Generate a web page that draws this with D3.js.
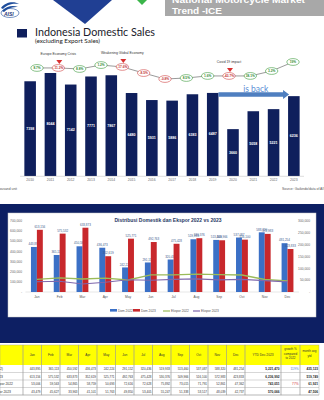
<!DOCTYPE html>
<html><head><meta charset="utf-8">
<script src="https://cdn.jsdelivr.net/npm/d3@7"></script>
<style>html,body{margin:0;padding:0;background:#fff;overflow:hidden}</style>
</head><body><svg id="c" width="324" height="400" xmlns="http://www.w3.org/2000/svg"></svg>
<script>
// ---------- DATA: top chart ----------
const years = ["2010","2011","2012","2013","2014","2015","2016","2017","2018","2019","2020","2021","2022","2023"];
const sales = [7398,8044,7142,7771,7867,6480,5931,5886,6383,6487,3660,5058,5221,6236];
const growthLabels = ["8.7%","-11.2%","8.8%","1.2%","-17.6%","-8.5%","-0.8%","8.5%","1.6%","-43.7%","38.1%","3.2%","19%"];
const growthNegative = [false,true,false,false,true,true,true,false,false,true,false,false,false];
const growthLevel = [0.65,0.65,0.59,0.82,0.71,0.35,0,0.06,0.18,0.18,0.18,0.47,1];
const events = [{i:1,text:"Europe  Economy  Crisis"},{i:4,text:"Weakening  Global Economy"},{i:9,text:"Covid 19 impact"}];

// ---------- DATA: monthly chart ----------
const months = ["Jan","Feb","Mar","Apr","May","Jun","Jul","Aug","Sep","Oct","Nov","Dec"];
const dom2022 = [443895,365113,450592,436473,242224,291152,320436,519933,513460,537087,588320,481254];
const dom2023 = [613156,575532,633873,352619,525771,492763,475428,530376,509966,516100,572983,423833];
const eks2022 = [53006,59563,54865,58759,50693,72616,72628,75892,73015,71791,52861,47362];
const eks2023 = [43479,45627,33963,41101,51763,49850,53405,55247,51338,53517,48039,42737];
const leftTicks = [0,100000,200000,300000,400000,500000,600000,700000];
const rightTicks = [0,50000,100000,150000,200000,250000,300000];
const seriesNames = ["Dom 2022","Dom 2023","Ekspor 2022","Ekspor 2023"];

// ---------- DATA: table ----------
const rowLabels = ["Domestik (2022)","Domestik 2023","Ekspor 2022","Ekspor 2023"];
const ytd = ["5,221,470","6,236,992","743,051","570,066"];
const growthPct = ["119%","","77%",""];
const monthAvg = ["435,123","519,749","61,921","47,506"];

const svg = d3.select("#c");
const fmt = d3.format(",");
const F = "'Liberation Sans', Arial, sans-serif";

// ---------- Header decorations ----------
svg.append("path").attr("d","M53,0 L112,0 L85,24 Z").attr("fill","#203f93");
svg.append("path").attr("d","M137,0 L147,0 L142,5 Z").attr("fill","#3bb54a");
svg.append("rect").attr("x",165).attr("y",0).attr("width",159).attr("height",16).attr("fill","#a8a8a8");
svg.append("text").attr("x",172).attr("y",3).attr("fill","#fff").attr("font-family",F).attr("font-weight","bold")
  .attr("font-size",9).attr("textLength",133).attr("lengthAdjust","spacingAndGlyphs").text("National Motorcycle Market");
svg.append("text").attr("x",172).attr("y",14).attr("fill","#fff").attr("font-family",F).attr("font-weight","bold")
  .attr("font-size",9).attr("textLength",50).attr("lengthAdjust","spacingAndGlyphs").text("Trend -ICE");
// logo
const logo = svg.append("g");
logo.append("path").attr("d","M1,8 C5,2 14,1 19,4 C14,3 7,4 3,9 Z").attr("fill","#1f4e9c");
logo.append("path").attr("d","M2,11 C6,6 13,5 18,7 C13,7 8,8 4,12 Z").attr("fill","#1f4e9c");
logo.append("text").attr("x",4).attr("y",16).attr("font-family",F).attr("font-style","italic").attr("font-weight","bold")
  .attr("font-size",5).attr("fill","#1f3a7a").text("AISI");
logo.append("ellipse").attr("cx",10).attr("cy",13).attr("rx",9).attr("ry",4.5).attr("fill","none").attr("stroke","#1f4e9c").attr("stroke-width",0.6);

// ---------- Title ----------
svg.append("rect").attr("x",17).attr("y",29).attr("width",10).attr("height",8.5).attr("fill","#0f1f5c");
svg.append("text").attr("x",35).attr("y",36).attr("font-family","Lato, 'Open Sans', sans-serif").attr("font-size",11.5)
  .attr("fill","#1a1a2a").attr("textLength",120).attr("lengthAdjust","spacingAndGlyphs").text("Indonesia Domestic Sales");
svg.append("text").attr("x",35).attr("y",43).attr("font-family","Lato, sans-serif").attr("font-size",5)
  .attr("fill","#222").attr("textLength",65).attr("lengthAdjust","spacingAndGlyphs").text("(excluding Export Sales)");

// ---------- Top bar chart ----------
const xT = d3.scaleBand().domain(years).range([20,304]).paddingInner(0.43).paddingOuter(0.215);
const yT = d3.scaleLinear().domain([0,9000]).range([176,60.75]);
svg.append("g").selectAll("rect").data(sales).join("rect")
  .attr("x",(d,i)=>xT(years[i])).attr("y",d=>yT(d)).attr("width",xT.bandwidth()).attr("height",d=>yT(0)-yT(d))
  .attr("fill","#0f1f5c");
svg.append("g").selectAll("text").data(sales).join("text")
  .attr("x",(d,i)=>xT(years[i])+xT.bandwidth()/2).attr("y",d=>(yT(d)+yT(0))/2+1)
  .attr("text-anchor","middle").attr("font-family",F).attr("font-weight","bold").attr("font-size",3.6).attr("fill","#fff").text(d=>d);
svg.append("line").attr("x1",20).attr("x2",304).attr("y1",176.3).attr("y2",176.3).attr("stroke","#bbb").attr("stroke-width",0.5);
svg.append("g").selectAll("text").data(years).join("text")
  .attr("x",d=>xT(d)+xT.bandwidth()/2).attr("y",180.5).attr("text-anchor","middle").attr("font-family",F)
  .attr("font-size",3.4).attr("fill","#666").text(d=>d);

// "is back" arrow from 2019 bar top to 2023 bar top
const ax0 = xT("2019")+xT.bandwidth(), ax1 = xT("2023")+1, ay = yT(sales[9])+1.5;
svg.append("path").attr("d",`M${ax0},${ay-2.3} L${ax1-6},${ay-2.3} L${ax1-6},${ay-4.5} L${ax1},${ay} L${ax1-6},${ay+4.5} L${ax1-6},${ay+2.3} L${ax0},${ay+2.3} Z`)
  .attr("fill","#4f7fc0");
svg.append("text").attr("x",(ax0+ax1)/2+2).attr("y",ay-2.6).attr("text-anchor","middle").attr("font-family","Lato, sans-serif")
  .attr("font-size",8.5).attr("fill","#5b8fd6").text("is back");

// growth bubbles
const xB = d3.scaleLinear().domain([0,growthLabels.length-1]).range([37,293]);
const yB = d3.scaleLinear().domain([0,1]).range([79,62]);
svg.append("path").attr("d",d3.line().x((d,i)=>xB(i)).y(d=>yB(d))(growthLevel))
  .attr("fill","none").attr("stroke","#555").attr("stroke-width",0.6);
const gb = svg.append("g").selectAll("g").data(growthLabels).join("g")
  .attr("transform",(d,i)=>`translate(${xB(i)},${yB(growthLevel[i])})`);
gb.append("ellipse").attr("rx",6.2).attr("ry",3.4).attr("fill","#fff")
  .attr("stroke",(d,i)=>growthNegative[i]?"#d04545":"#3c9a3c").attr("stroke-width",0.6);
gb.append("text").attr("y",1.2).attr("text-anchor","middle").attr("font-family",F).attr("font-weight","bold")
  .attr("font-size",3.2).attr("fill",(d,i)=>growthNegative[i]?"#c23030":"#2f8a2f").text(d=>d);
// events
const ev = svg.append("g").selectAll("g").data(events).join("g");
ev.append("text").attr("x",d=>xB(d.i)).attr("y",d=>yB(growthLevel[d.i])-13).attr("text-anchor","middle")
  .attr("font-family",F).attr("font-size",3.4).attr("fill","#333").text(d=>d.text);
ev.append("path").attr("d",d=>{const x=xB(d.i)+1,y=yB(growthLevel[d.i])-4;return `M${x-3},${y-4} L${x+3},${y-4} L${x},${y} Z`;})
  .attr("fill","#d83030");

svg.append("text").attr("x",17).attr("y",190).attr("text-anchor","end").attr("font-family",F).attr("font-size",3.4)
  .attr("fill","#555").text("Data in thousand unit");
svg.append("text").attr("x",282).attr("y",190).attr("font-family",F).attr("font-size",3.4)
  .attr("fill","#555").text("Source: Gaikindo/data of AISI &");

// ---------- Monthly chart panel ----------
svg.append("rect").attr("x",0).attr("y",204).attr("width",324).attr("height",139).attr("fill","#0d1f63");
svg.append("rect").attr("x",8).attr("y",213).attr("width",308).attr("height",104).attr("fill","#fff").attr("stroke","#c8c8c8").attr("stroke-width",0.5);
svg.append("text").attr("x",168).attr("y",221.5).attr("text-anchor","middle").attr("font-family",F).attr("font-weight","bold")
  .attr("font-size",4.8).attr("fill","#1f3864").attr("textLength",107).attr("lengthAdjust","spacingAndGlyphs")
  .text("Distribusi  Domestik dan Ekspor 2022 vs 2023");

const x0 = d3.scaleBand().domain(months).range([25.5,298.9]).paddingInner(0.48).paddingOuter(0.24);
const x1 = d3.scaleBand().domain(["a","b"]).range([0,x0.bandwidth()]);
const yL = d3.scaleLinear().domain([0,700000]).range([292,221]);
const yR = d3.scaleLinear().domain([0,300000]).range([292,221]);

svg.append("g").selectAll("text").data(leftTicks).join("text").attr("x",22).attr("y",d=>yL(d)+1.2).attr("text-anchor","end")
  .attr("font-family",F).attr("font-size",3.3).attr("fill","#666").text(d=>d===0?"-":fmt(d));
svg.append("g").selectAll("text").data(rightTicks).join("text").attr("x",310).attr("y",d=>yR(d)+1.2).attr("text-anchor","end")
  .attr("font-family",F).attr("font-size",3.3).attr("fill","#666").text(d=>d===0?"-":fmt(d));
svg.append("line").attr("x1",25.5).attr("x2",298.9).attr("y1",292).attr("y2",292).attr("stroke","#ccc").attr("stroke-width",0.5);

function barGroup(vals,key,color,labelColor){
  const g = svg.append("g");
  g.selectAll("rect").data(vals).join("rect")
    .attr("x",(d,i)=>x0(months[i])+x1(key)).attr("y",d=>yL(d)).attr("width",x1.bandwidth()).attr("height",d=>yL(0)-yL(d))
    .attr("fill",color);
  g.selectAll("text").data(vals).join("text")
    .attr("x",(d,i)=>x0(months[i])+x1(key)+x1.bandwidth()/2).attr("y",d=>yL(d)-1.8).attr("text-anchor","middle")
    .attr("font-family",F).attr("font-size",3).attr("fill",labelColor).text(d=>fmt(d));
}
barGroup(dom2022,"a","#3b70c6","#3b5a8c");
barGroup(dom2023,"b","#c8282c","#3b5a8c");
const lineR = d3.line().x((d,i)=>x0(months[i])+x0.bandwidth()/2).y(d=>yR(d));
svg.append("path").attr("d",lineR(eks2022)).attr("fill","none").attr("stroke","#9bbb59").attr("stroke-width",1.3);
svg.append("path").attr("d",lineR(eks2023)).attr("fill","none").attr("stroke","#7f68ad").attr("stroke-width",1.1);
svg.append("g").selectAll("text").data(months).join("text").attr("x",d=>x0(d)+x0.bandwidth()/2).attr("y",298)
  .attr("text-anchor","middle").attr("font-family",F).attr("font-size",3.3).attr("fill","#555").text(d=>d);

// legend
const legX = [110,133,163,193];
const legColors = ["#3b70c6","#c8282c","#9bbb59","#7f68ad"];
const lg = svg.append("g").selectAll("g").data(seriesNames).join("g").attr("transform",(d,i)=>`translate(${legX[i]},311)`);
lg.append("rect").attr("x",0).attr("y",(d,i)=>i<2?-2:-0.6).attr("width",7).attr("height",(d,i)=>i<2?2.6:1.2).attr("fill",(d,i)=>legColors[i]);
lg.append("text").attr("x",8).attr("y",0.8).attr("font-family",F).attr("font-size",3.2).attr("fill","#555").text(d=>d);

// ---------- Table ----------
const tRows = [dom2022,dom2023,eks2022,eks2023];
const colW = 18.5, mx0 = 23;
const cols = months.map((m,i)=>({x:mx0+i*colW,w:colW}));
const ytdC = {x:245,w:36}, grC = {x:281,w:19}, avC = {x:300,w:19};
const hy = 345, hh = 20, rh = 7.5;
const tg = svg.append("g");
// header
tg.append("rect").attr("x",0).attr("y",hy).attr("width",319).attr("height",hh).attr("fill","#ffff00");
[{x:0,w:23}].concat(cols,[ytdC,grC,avC]).forEach(c=>{
  tg.append("rect").attr("x",c.x).attr("y",hy).attr("width",c.w).attr("height",hh+rh*4).attr("fill","none").attr("stroke","#9a9a9a").attr("stroke-width",0.4);
});
tg.selectAll("text.mh").data(months).join("text").attr("x",(d,i)=>cols[i].x+colW/2).attr("y",hy+11).attr("text-anchor","middle")
  .attr("font-family",F).attr("font-size",3.2).attr("fill","#333").text(d=>d);
tg.append("text").attr("x",ytdC.x+ytdC.w/2).attr("y",hy+11).attr("text-anchor","middle").attr("font-family",F).attr("font-size",3.2).attr("fill","#333").text("YTD Dec 2023");
["growth %","compared","to 2022"].forEach((t,k)=>tg.append("text").attr("x",grC.x+grC.w/2).attr("y",hy+5+k*4.5).attr("text-anchor","middle").attr("font-family",F).attr("font-size",3).attr("fill","#333").text(t));
["month avg","ytd"].forEach((t,k)=>tg.append("text").attr("x",avC.x+avC.w/2).attr("y",hy+7+k*4.5).attr("text-anchor","middle").attr("font-family",F).attr("font-size",3).attr("fill","#333").text(t));
// rows
tRows.forEach((row,r)=>{
  const y = hy+hh+r*rh;
  tg.append("line").attr("x1",0).attr("x2",319).attr("y1",y+rh).attr("y2",y+rh).attr("stroke","#9a9a9a").attr("stroke-width",0.4);
  tg.append("text").attr("x",[3,3,13,11][r]).attr("y",y+5).attr("text-anchor","end").attr("font-family",F).attr("font-size",3.4).attr("fill","#333").text(rowLabels[r]);
  row.forEach((v,i)=>tg.append("text").attr("x",cols[i].x+colW-1).attr("y",y+5).attr("text-anchor","end").attr("font-family",F).attr("font-size",3).attr("fill","#333").text(fmt(v)));
  tg.append("text").attr("x",ytdC.x+ytdC.w-1.5).attr("y",y+5).attr("text-anchor","end").attr("font-family",F).attr("font-weight","bold").attr("font-size",3.2).attr("fill","#222").text(ytd[r]);
  tg.append("text").attr("x",grC.x+grC.w-1.5).attr("y",y+5).attr("text-anchor","end").attr("font-family",F).attr("font-size",3.2).attr("fill",r===0?"#4a78c0":"#d03030").text(growthPct[r]);
  tg.append("text").attr("x",avC.x+avC.w-1).attr("y",y+5).attr("text-anchor","end").attr("font-family",F).attr("font-weight","bold").attr("font-size",3.2).attr("fill","#222").text(monthAvg[r]);
});
</script></body></html>
